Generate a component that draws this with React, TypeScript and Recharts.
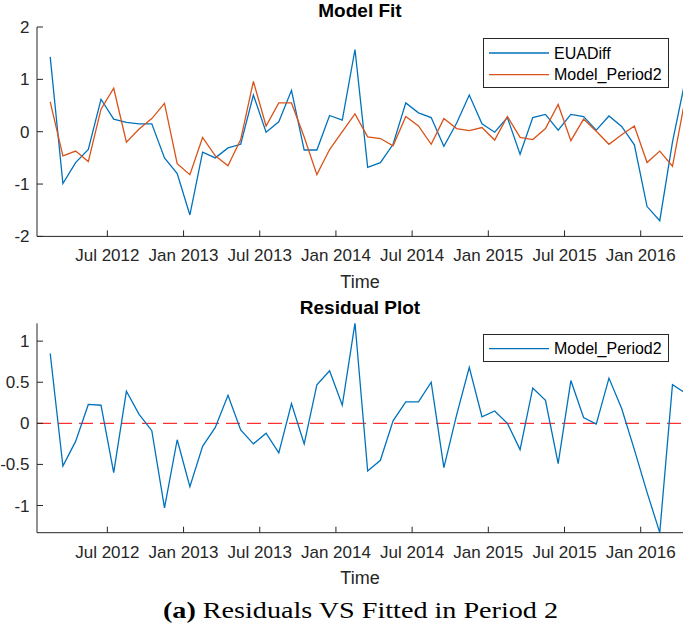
import React from 'react';
import { LineChart, Line, XAxis, YAxis, ReferenceLine, Legend } from 'recharts';

// ---- data ----
const months = [
  '2012-02', '2012-03', '2012-04', '2012-05', '2012-06', '2012-07', '2012-08', '2012-09', '2012-10', '2012-11', '2012-12',
  '2013-01', '2013-02', '2013-03', '2013-04', '2013-05', '2013-06', '2013-07', '2013-08', '2013-09', '2013-10', '2013-11', '2013-12',
  '2014-01', '2014-02', '2014-03', '2014-04', '2014-05', '2014-06', '2014-07', '2014-08', '2014-09', '2014-10', '2014-11', '2014-12',
  '2015-01', '2015-02', '2015-03', '2015-04', '2015-05', '2015-06', '2015-07', '2015-08', '2015-09', '2015-10', '2015-11', '2015-12',
  '2016-01', '2016-02', '2016-03', '2016-04',
];

const euaDiff = [
  1.43, -0.99, -0.59, -0.34, 0.62, 0.24, 0.18, 0.15, 0.15, -0.5, -0.8,
  -1.59, -0.39, -0.5, -0.31, -0.24, 0.7, -0.01, 0.19, 0.79, -0.35, -0.35, 0.31,
  0.22, 1.57, -0.68, -0.59, -0.24, 0.55, 0.36, 0.27, -0.28, 0.16, 0.7, 0.15,
  -0.01, 0.27, -0.43, 0.27, 0.33, 0.03, 0.33, 0.29, 0.03, 0.3, 0.1, -0.25,
  -1.43, -1.7, -0.2, 0.98,
];

const modelPeriod2 = [
  0.57, -0.46, -0.37, -0.57, 0.43, 0.83, -0.2, 0.05, 0.25, 0.54, -0.61,
  -0.82, -0.11, -0.46, -0.65, -0.15, 0.96, 0.11, 0.55, 0.55, -0.1, -0.82, -0.34,
  0.0, 0.34, -0.1, -0.13, -0.27, 0.29, 0.11, -0.24, 0.25, 0.06, 0.02, 0.08,
  -0.16, 0.29, -0.11, -0.15, 0.06, 0.52, -0.17, 0.24, 0.01, -0.24, -0.06, 0.11,
  -0.59, -0.37, -0.66, 0.63,
];

const residuals = [
  0.85, -0.52, -0.22, 0.23, 0.22, -0.6, 0.39, 0.11, -0.09, -1.03, -0.2,
  -0.77, -0.28, -0.05, 0.34, -0.08, -0.25, -0.12, -0.36, 0.24, -0.25, 0.47, 0.64,
  0.22, 1.22, -0.58, -0.45, 0.03, 0.26, 0.26, 0.5, -0.54, 0.1, 0.68, 0.08,
  0.15, 0.0, -0.32, 0.43, 0.28, -0.49, 0.52, 0.07, -0.01, 0.55, 0.18, -0.32,
  -0.84, -1.33, 0.47, 0.37,
];

const tickMonths = ['2012-07', '2013-01', '2013-07', '2014-01', '2014-07', '2015-01', '2015-07', '2016-01'];
const tickLabels = ['Jul 2012', 'Jan 2013', 'Jul 2013', 'Jan 2014', 'Jul 2014', 'Jan 2015', 'Jul 2015', 'Jan 2016'];
const fitTicks = [-2, -1, 0, 1, 2];
const residTicks = [-1, -0.5, 0, 0.5, 1];

// ---- helpers ----
const monthIndex = (s: string) => {
  const [y, m] = s.split('-').map(Number);
  return (y - 2012) * 12 + (m - 1);
};
const tickXs = tickMonths.map(monthIndex);
const fmtTick = (v: number) => {
  const i = tickXs.indexOf(v);
  return i >= 0 ? tickLabels[i] : '';
};

const fitData = months.map((m, i) => ({ x: monthIndex(m) + 0.5, eua: euaDiff[i], model: modelPeriod2[i] }));
const residData = months.map((m, i) => ({ x: monthIndex(m) + 0.5, res: residuals[i] }));

const X_DOMAIN: [number, number] = [0.46, 51.33];
const FONT = '"Liberation Sans", Arial, Helvetica, sans-serif';
const AX = '#262626';
const BLUE = '#0072BD';
const ORANGE = '#D95319';

const tickStyle = { fill: AX, fontSize: 17, fontFamily: FONT };
const noTick = () => <g />;

const makeLegend = (w: number, h: number, rows: number[]) => (props: any) => {
  const payload = props.payload || [];
  return (
    <svg width={w} height={h} style={{ display: 'block' }}>
      <rect x={0.5} y={0.5} width={w - 1} height={h - 1} fill="#fff" stroke={AX} strokeWidth={1} />
      {payload.map((p: any, i: number) => (
        <g key={i}>
          <line x1={6} x2={66} y1={rows[i]} y2={rows[i]} stroke={p.color} strokeWidth={1.3} />
          <text x={71} y={rows[i]} dy="0.36em" fontSize={16} fontFamily={FONT} fill="#000">
            {p.value}
          </text>
        </g>
      ))}
    </svg>
  );
};

export default function App() {
  return (
    <div style={{ position: 'absolute', left: 0, top: 0, width: 685, height: 629, background: '#fff' }}>
      <div style={{ position: 'absolute', left: 0, top: 0 }}>
        <LineChart width={685} height={300} data={fitData} margin={{ top: 27, right: 2, bottom: 0, left: 0 }}>
          <XAxis xAxisId="b" type="number" dataKey="x" domain={X_DOMAIN} allowDataOverflow ticks={tickXs}
            interval={0} tickFormatter={fmtTick} height={63.6} stroke={AX} tickSize={-6} tickMargin={19} tick={tickStyle} />
          <XAxis xAxisId="t" orientation="top" type="number" dataKey="x" domain={X_DOMAIN} allowDataOverflow ticks={tickXs}
            interval={0} height={0} stroke={AX} tickSize={-6} tick={noTick} />
          <YAxis yAxisId="l" type="number" domain={[-2, 2]} allowDataOverflow ticks={fitTicks} interval={0} width={37}
            stroke={AX} tickSize={-6} tickMargin={13.5} tick={tickStyle} />
          <YAxis yAxisId="r" orientation="right" type="number" domain={[-2, 2]} allowDataOverflow ticks={fitTicks}
            interval={0} width={0} stroke={AX} tickSize={-6} tick={noTick} />
          <Line xAxisId="b" yAxisId="l" type="linear" dataKey="eua" name="EUADiff" stroke={BLUE} strokeWidth={1.3}
            dot={false} isAnimationActive={false} />
          <Line xAxisId="b" yAxisId="l" type="linear" dataKey="model" name="Model_Period2" stroke={ORANGE} strokeWidth={1.3}
            dot={false} isAnimationActive={false} />
          <Legend layout="vertical" align="center" verticalAlign="middle" content={makeLegend(186, 50, [15, 36.7])}
            wrapperStyle={{ left: 482.5, top: 38.3, width: 186, height: 50 }} />
        </LineChart>
      </div>
      <div style={{ position: 'absolute', left: 0, top: 300 }}>
        <LineChart width={685} height={300} data={residData} margin={{ top: 23.3, right: 2, bottom: 0, left: 0 }}>
          <XAxis xAxisId="b" type="number" dataKey="x" domain={X_DOMAIN} allowDataOverflow ticks={tickXs}
            interval={0} tickFormatter={fmtTick} height={67.3} stroke={AX} tickSize={-6} tickMargin={19} tick={tickStyle} />
          <XAxis xAxisId="t" orientation="top" type="number" dataKey="x" domain={X_DOMAIN} allowDataOverflow ticks={tickXs}
            interval={0} height={0} stroke={AX} tickSize={-6} tick={noTick} />
          <YAxis yAxisId="l" type="number" domain={[-1.331, 1.217]} allowDataOverflow ticks={residTicks} interval={0} width={37}
            stroke={AX} tickSize={-6} tickMargin={13.5} tick={tickStyle} />
          <YAxis yAxisId="r" orientation="right" type="number" domain={[-1.331, 1.217]} allowDataOverflow ticks={residTicks}
            interval={0} width={0} stroke={AX} tickSize={-6} tick={noTick} />
          <ReferenceLine xAxisId="b" yAxisId="l" y={0} stroke="#FF0000" strokeWidth={1} strokeDasharray="14 7" />
          <Line xAxisId="b" yAxisId="l" type="linear" dataKey="res" name="Model_Period2" stroke={BLUE} strokeWidth={1.3}
            dot={false} isAnimationActive={false} />
          <Legend layout="vertical" align="center" verticalAlign="middle" content={makeLegend(186, 28, [14.7])}
            wrapperStyle={{ left: 482.5, top: 34.3, width: 186, height: 28 }} />
        </LineChart>
      </div>
      <svg width={685} height={629} style={{ position: 'absolute', left: 0, top: 0, pointerEvents: 'none' }}>
        <text x={360} y={17} textAnchor="middle" fontFamily={FONT} fontSize={19} fontWeight="bold" fill="#000">Model Fit</text>
        <text x={360} y={288} textAnchor="middle" fontFamily={FONT} fontSize={18} fill={AX}>Time</text>
        <text x={360} y={314} textAnchor="middle" fontFamily={FONT} fontSize={19} fontWeight="bold" fill="#000">Residual Plot</text>
        <text x={360} y={584} textAnchor="middle" fontFamily={FONT} fontSize={18} fill={AX}>Time</text>
        <text x={360.5} y={618} textAnchor="middle" fontFamily='"Liberation Serif", "Times New Roman", serif' fontSize={24}
          fill="#000" textLength={395} lengthAdjust="spacingAndGlyphs">
          <tspan fontWeight="bold">(a)</tspan> Residuals VS Fitted in Period 2
        </text>
      </svg>
    </div>
  );
}
